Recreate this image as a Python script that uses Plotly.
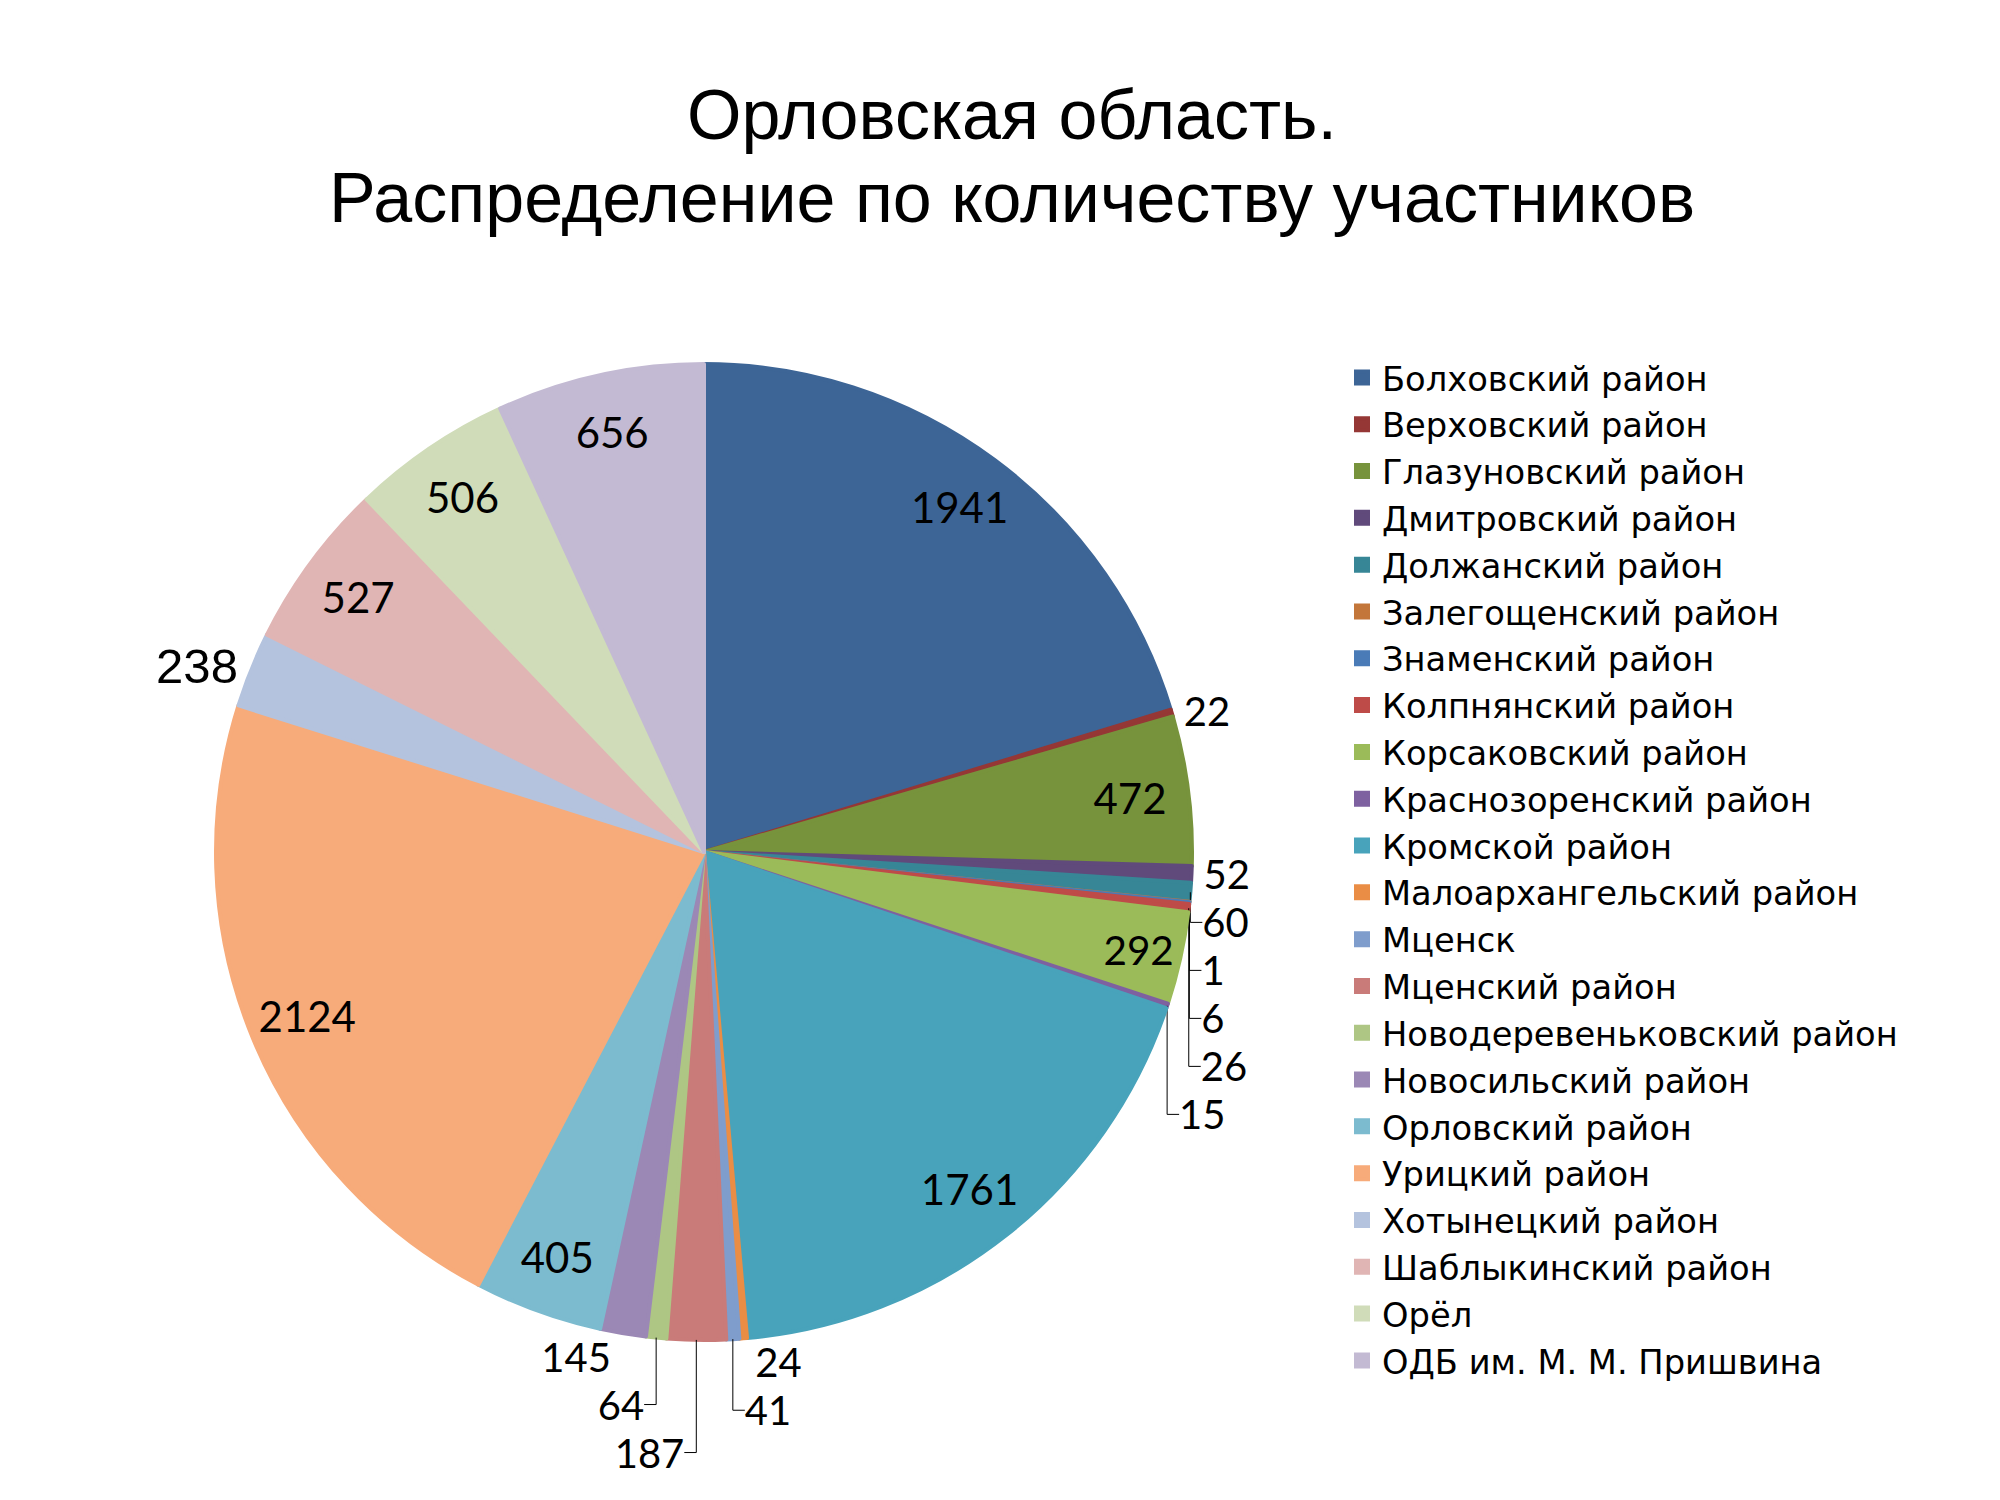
import plotly.graph_objects as go

# ---- data ----
districts = [
    "Болховский район", "Верховский район", "Глазуновский район", "Дмитровский район",
    "Должанский район", "Залегощенский район", "Знаменский район", "Колпнянский район",
    "Корсаковский район", "Краснозоренский район", "Кромской район",
    "Малоархангельский район", "Мценск", "Мценский район", "Новодеревеньковский район",
    "Новосильский район", "Орловский район", "Урицкий район", "Хотынецкий район",
    "Шаблыкинский район", "Орёл", "ОДБ им. М. М. Пришвина",
]
participants = [1941, 22, 472, 52, 60, 1, 6, 26, 292, 15, 1761,
                24, 41, 187, 64, 145, 405, 2124, 238, 527, 506, 656]

slice_colors = [
    "#3D6596", "#953735", "#77933C", "#604A7B", "#378696", "#C3763A",
    "#4A7BB7", "#BE4B48", "#9BBB59", "#7E61A0", "#48A3BB", "#EA8D45",
    "#7F9DCC", "#C97B79", "#AEC684", "#9B88B5", "#7CBBCF", "#F7AB7A",
    "#B4C3DE", "#E0B5B4", "#D0DCB9", "#C3BAD3",
]

title_lines = ["Орловская область.", "Распределение по количеству участников"]

PIE_DOMAIN = dict(x=[0.104, 0.592], y=[0.112, 0.7627])
BIG = 290  # slices at least this large carry their number inside

outside_pos = ["none" if v >= BIG else "outside" for v in participants]
inside_pos = ["inside" if v >= BIG else "none" for v in participants]
# the Хотынецкий label was set in a different font in the original
out_family = ["Liberation Sans" if d == "Хотынецкий район" else "Lato" for d in districts]
out_size = [49 if d == "Хотынецкий район" else 40 for d in districts]

fig = go.Figure()

# ============================== >>> Pie + outside labels <<< ==============================
fig.add_trace(go.Pie(
    labels=districts,
    values=participants,
    sort=False,
    direction="clockwise",
    rotation=0,
    # outline in the slice's own colour -> bigger legend squares, no visible border
    marker=dict(colors=slice_colors, line=dict(color=slice_colors, width=4)),
    texttemplate="%{value}",
    textposition=outside_pos,
    textfont=dict(family=out_family, size=out_size, color="black"),
    domain=PIE_DOMAIN,
    showlegend=True,
))

# ============================== >>> Inside labels (transparent ring) <<< ==============================
# same slices drawn transparent with a hole, so the inside numbers sit near the rim
fig.add_trace(go.Pie(
    labels=districts,
    values=participants,
    sort=False,
    direction="clockwise",
    rotation=0,
    hole=0.76,
    marker=dict(colors=["rgba(0,0,0,0)"] * len(districts), line=dict(width=0)),
    texttemplate="%{value}",
    textposition=inside_pos,
    insidetextorientation="horizontal",
    textfont=dict(family="Lato", size=42, color="black"),
    domain=PIE_DOMAIN,
    showlegend=False,
    hoverinfo="skip",
))

# ============================== >>> Title (two lines, tight spacing) <<< ==============================
for line, y_px in zip(title_lines, [107, 190]):
    fig.add_annotation(
        text=line,
        xref="paper", yref="paper",
        x=0.502, y=1 - y_px / 1500,
        xanchor="center", yanchor="middle",
        showarrow=False,
        font=dict(family="Liberation Sans", size=70, color="black"),
    )

# ============================== >>> Layout <<< ==============================
fig.update_layout(
    width=2000,
    height=1500,
    paper_bgcolor="white",
    plot_bgcolor="white",
    margin=dict(l=0, r=0, t=0, b=0),
    legend=dict(
        x=0.667, xanchor="left",
        y=1 - 341 / 1500, yanchor="top",
        font=dict(family="DejaVu Sans", size=33.7, color="black"),
        bgcolor="rgba(0,0,0,0)",
    ),
)

fig.write_html("out.html")
